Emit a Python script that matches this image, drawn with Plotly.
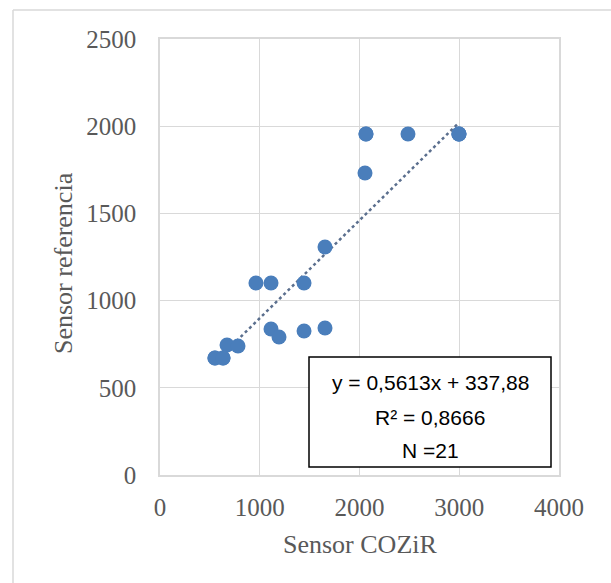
import plotly.graph_objects as go

# Data
cozir = [551, 632, 672, 782, 962, 1113, 1444, 1654, 1113, 1193, 1444, 1654,
         2055, 2065, 2486, 2997, 2997, 2997, 551, 632, 2065]
referencia = [671, 671, 745, 740, 1101, 1101, 1101, 1307, 837, 791, 826, 843,
              1732, 1955, 1955, 1955, 1955, 1955, 671, 671, 1955]
slope = 0.5613
intercept = 337.88
eq_lines = ["y = 0,5613x + 337,88", "R² = 0,8666", "N =21"]
x_ticks = [0, 1000, 2000, 3000, 4000]
y_ticks = [0, 500, 1000, 1500, 2000, 2500]

GRID = "#d9d9d9"
TXT = "#595959"
SERIF = "Liberation Serif"

xmin, xmax = min(cozir), max(cozir)
trend_x = [xmin, xmax]
trend_y = [slope * v + intercept for v in trend_x]

fig = go.Figure()
fig.add_trace(go.Scatter(x=trend_x, y=trend_y, mode="lines",
                         line=dict(color="#5b6f8e", width=2.5, dash="dot"),
                         hoverinfo="skip", showlegend=False))
fig.add_trace(go.Scatter(x=cozir, y=referencia, mode="markers",
                         marker=dict(color="#4a7ebb", size=15, line=dict(width=0)),
                         showlegend=False))

L, R, T, B = 160, 52, 39, 108
W, H = 611, 583
pw = W - L - R
ph = H - T - B

def px(x):
    return (x - L) / pw

def py(y):
    return (H - B - y) / ph

fig.update_layout(
    width=W, height=H,
    margin=dict(l=L, r=R, t=T, b=B),
    paper_bgcolor="white", plot_bgcolor="white",
    font=dict(family=SERIF, color=TXT, size=25),
    xaxis=dict(range=[0, 4000], tickvals=x_ticks, showgrid=True, gridcolor=GRID,
               gridwidth=1, zeroline=False, showline=True, linecolor=GRID,
               linewidth=1.5, mirror=True, ticks="", ticklabelstandoff=9,
               tickfont=dict(family=SERIF, size=25, color=TXT)),
    yaxis=dict(range=[0, 2500], tickvals=y_ticks, showgrid=True, gridcolor=GRID,
               gridwidth=1, zeroline=False, showline=True, linecolor=GRID,
               linewidth=1.5, mirror=True, ticks="", ticklabelstandoff=17,
               tickfont=dict(family=SERIF, size=25, color=TXT)),
    shapes=[
        dict(type="line", xref="paper", yref="paper", x0=px(13), x1=px(611),
             y0=py(10), y1=py(10), line=dict(color=GRID, width=1.5)),
        dict(type="line", xref="paper", yref="paper", x0=px(13), x1=px(13),
             y0=py(10), y1=py(583), line=dict(color=GRID, width=1.5)),
        dict(type="rect", xref="paper", yref="paper", x0=px(309), x1=px(551),
             y0=py(467), y1=py(357), line=dict(color="black", width=1.5),
             fillcolor="white", layer="above"),
    ],
)

annotations = [
    dict(text="Sensor COZiR", xref="paper", yref="paper", x=px(360), y=py(544),
         showarrow=False, xanchor="center", yanchor="middle",
         font=dict(family=SERIF, size=26, color=TXT)),
    dict(text="Sensor referencia", xref="paper", yref="paper", x=px(63), y=py(263),
         showarrow=False, xanchor="center", yanchor="middle", textangle=-90,
         font=dict(family=SERIF, size=26, color=TXT)),
]
for line_text, ypix in zip(eq_lines, [383, 417, 450]):
    annotations.append(dict(text=line_text, xref="paper", yref="paper",
                            x=px(430), y=py(ypix), showarrow=False,
                            xanchor="center", yanchor="middle",
                            font=dict(family="Liberation Sans", size=21, color="black")))
fig.update_layout(annotations=annotations)

fig.write_html("out.html")
